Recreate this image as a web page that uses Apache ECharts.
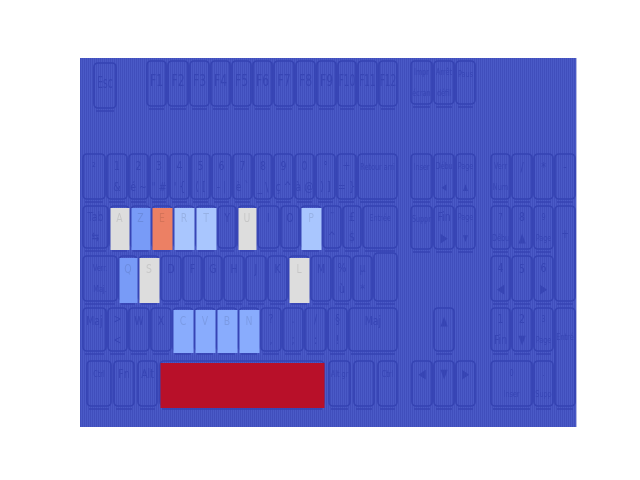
<!DOCTYPE html>
<html><head><meta charset="utf-8">
<script src="https://cdn.jsdelivr.net/npm/echarts@6/dist/echarts.min.js"></script>
<style>html,body{margin:0;background:#fff}#c{width:640px;height:480px}</style>
</head><body><div id="c"></div>
<script>
// Keyboard layout in image coordinates: [name, x0, x1, y0, y1]
const keyboard = [
  ['Esc',93,117,62,112],
  ['F1',146,167,60,110],['F2',167,189,60,110],['F3',189,210,60,110],['F4',210,231,60,110],
  ['F5',231,252,60,110],['F6',252,273,60,110],['F7',273,295,60,110],['F8',295,316,60,110],
  ['F9',316,337,60,110],['F10',337,357,60,110],['F11',357,378,60,110],['F12',378,398,60,110],
  ['Impr\nécran',410,433,60,108],['Arrêt\ndéfil',433,455,60,108],['Pause',455,476,60,108],
  ['²',82,106,153,203],['1\n&',106,128,153,203],['2\né ~',128,149,153,203],['3\n" #',149,169,153,203],
  ["4\n' {",169,190,153,203],['5\n( [',190,211,153,203],['6\n- |',211,232,153,203],['7\nè `',232,253,153,203],
  ['8\n_ \\',253,273,153,203],['9\nç ^',273,294,153,203],['0\nà @',294,315,153,203],['°\n) ]',315,336,153,203],
  ['+\n= }',336,357,153,203],['Retour arrière',357,398,153,203],
  ['Inser',410,433,153,203],['Début\n◀',433,455,153,203],['Page\n▲',455,476,153,203],
  ['Verr\nNum',490,511,153,203],['/',511,533,153,203],['*',533,554,153,203],['-',554,576,153,203],
  ['Tab\n⇆',82,109,205,252],['A',109,130,205,252],['Z',130,151,205,252],['E',151,173,205,252],
  ['R',173,195,205,252],['T',195,217,205,252],['Y',217,237,205,252],['U',237,257,205,252],
  ['I',257,280,205,252],['O',280,300,205,252],['P',300,322,205,252],['¨\n^',322,342,205,252],
  ['£\n$',342,362,205,252],['Entrée',362,398,205,252],['',373,398,252,305],
  ['Suppr',410,433,205,253],['Fin\n▶',433,455,205,253],['Page\n▼',455,476,205,253],
  ['7\nDébut',490,511,205,253],['8\n▲',511,533,205,253],['9\nPage▲',533,554,205,253],['+',554,576,205,305],
  ['Verr.\nMaj.',82,118,255,305],['Q',118,138,255,305],['S',138,160,255,305],['D',160,182,255,305],
  ['F',182,203,255,305],['G',203,223,255,305],['H',223,245,255,305],['J',245,267,255,305],
  ['K',267,288,255,305],['L',288,310,255,305],['M',310,332,255,305],['%\nù',332,352,255,305],
  ['µ\n*',352,373,255,305],
  ['4\n◀',490,511,255,305],['5',511,533,255,305],['6\n▶',533,554,255,305],
  ['Maj',82,107,307,355],['>\n<',107,128,307,355],['W',128,150,307,355],['X',150,172,307,355],
  ['C',172,194,307,355],['V',194,216,307,355],['B',216,238,307,355],['N',238,260,307,355],
  ['?\n,',260,282,307,355],['.\n;',282,304,307,355],['/\n:',304,327,307,355],['§\n!',327,348,307,355],
  ['Maj ',348,398,307,355],['▲',433,455,307,355],
  ['1\nFin',490,511,307,355],['2\n▼',511,533,307,355],['3\nPage▼',533,554,307,355],['Entrée ',554,576,307,410],
  ['Ctrl',86,112,360,410],['Fn',113,135,360,410],['Alt',137,158,360,410],['Espace',159,325,360,410],
  ['Alt gr',328,351,360,410],[' ',353,375,360,410],['Ctrl ',377,398,360,410],
  ['◀',411,433,360,410],['▼',433,455,360,410],['▶',455,476,360,410],
  ['0\nInser',490,533,360,410],['.\nSuppr',533,554,360,410]
];

// Heat values per key
const heatKeys   = ['A','Z','E','R','T','U','P','Q','S','L','C','V','B','N','Espace'];
const heatValues = [ 50, 19, 81, 33, 33, 50, 33, 19, 50, 50, 24, 24, 24, 24, 99];

const coolwarm = ['#3b4cc0','#445acc','#4d68d7','#5775e1','#6282ea','#6c8ef1','#779af7','#82a5fb',
  '#8db0fe','#98b9ff','#a3c2ff','#aec9fd','#b8d0f9','#c2d5f4','#ccd9ee','#d5dbe6','#dddddd',
  '#e5d8d1','#ecd3c5','#f1ccb8','#f5c4ac','#f7bba0','#f7b194','#f7a687','#f49a7b','#f18d6f',
  '#ec7f63','#e57058','#de604d','#d55042','#cb3e38','#c0282f','#b40426'];

const boxOf = {};
keyboard.forEach(k => { boxOf[k[0]] = k; });
const displayLabel = n => (n === 'Espace' ? '' : n.trim());

const kbData = keyboard.map(k => [k[1], k[2], k[3], k[4]]);
const heatData = heatKeys.map((n, i) => { const b = boxOf[n]; return [b[1], b[2], b[3], b[4], heatValues[i]]; });

const FONT = "'DejaVu Sans',sans-serif";

function txt(s, cx, cy, fs, color, maxW, sx) {
  const style = {text:s, x:0, y:0, align:'center', verticalAlign:'middle', font: fs + 'px ' + FONT, fill: color};
  if (maxW) { style.width = maxW / sx; style.overflow = 'truncate'; style.ellipsis = ''; }
  return {type:'text', x:cx, y:cy, scaleX:sx, scaleY:1, style:style};
}

function labelEls(name, x, y, w, h, color) {
  const t = displayLabel(name);
  if (!t) return [];
  const lines = t.split('\n');
  const isF = /^F\d+$/.test(t) || t === 'Esc';
  const long = lines.some(l => l.length > 3);
  const fs = isF ? 15 : (long ? 9 : 13);
  const sx = isF && t.length > 2 ? 0.6 : 0.72;
  const mw = long ? w - 2 : 0;
  if (lines.length === 1) {
    return [txt(t, x + w/2, y + (isF ? h*0.45 : h*0.3), fs, color, mw, sx)];
  }
  return [txt(lines[0], x + w/2, y + h*0.27, fs, color, mw, sx),
          txt(lines[1], x + w/2, y + h*0.7, fs, color, mw, sx)];
}

const chart = echarts.init(document.getElementById('c'), null, {renderer:'canvas'});
chart.setOption({
  animation: false,
  backgroundColor: '#ffffff',
  grid: {left:80, top:58, width:496, height:369, show:true, backgroundColor:'#4a5ac7', borderWidth:0},
  xAxis: {type:'value', min:80, max:576, interval:2, axisLine:{show:false}, axisTick:{show:false}, axisLabel:{show:false},
    splitLine:{show:true, lineStyle:{color:'rgba(45,58,170,0.35)', width:1}}},
  yAxis: {type:'value', min:58, max:427, inverse:true, show:false},
  visualMap: {show:false, type:'continuous', min:0, max:100, dimension:4, seriesIndex:1, inRange:{color:coolwarm}},
  series: [
    {
      type:'custom', z:2, clip:true, data: kbData, encode:{x:[0,1], y:[2,3]},
      renderItem: function(params, api) {
        const p0 = api.coord([api.value(0), api.value(2)]);
        const p1 = api.coord([api.value(1), api.value(3)]);
        const x = p0[0], y = p0[1], w = p1[0] - p0[0], h = p1[1] - p0[1];
        const name = keyboard[params.dataIndex][0];
        return {type:'group', children:[
          {type:'rect', shape:{x:x+1, y:y+1, width:w-2, height:h-5, r:4}, style:{fill:'none', stroke:'#3543b2', lineWidth:1.6}},
          {type:'line', shape:{x1:x+3, y1:y+h-1, x2:x+w-3, y2:y+h-1}, style:{stroke:'#3543b2', lineWidth:1.4}}
        ].concat(labelEls(name, x, y, w, h, '#3745b4'))};
      }
    },
    {
      type:'custom', z:3, clip:true, data: heatData, encode:{x:[0,1], y:[2,3]},
      renderItem: function(params, api) {
        const p0 = api.coord([api.value(0), api.value(2)]);
        const p1 = api.coord([api.value(1), api.value(3)]);
        const x = p0[0] + 1.5, y = p0[1] + 3, w = p1[0] - p0[0] - 2, h = p1[1] - p0[1] - 5;
        const name = heatKeys[params.dataIndex];
        return {type:'group', children:[
          {type:'rect', shape:{x:x, y:y, width:w, height:h}, style:{fill: api.visual('color')}}
        ].concat(labelEls(name, p0[0], p0[1], p1[0]-p0[0], p1[1]-p0[1], 'rgba(0,0,0,0.1)'))};
      }
    }
  ]
});
</script></body></html>
